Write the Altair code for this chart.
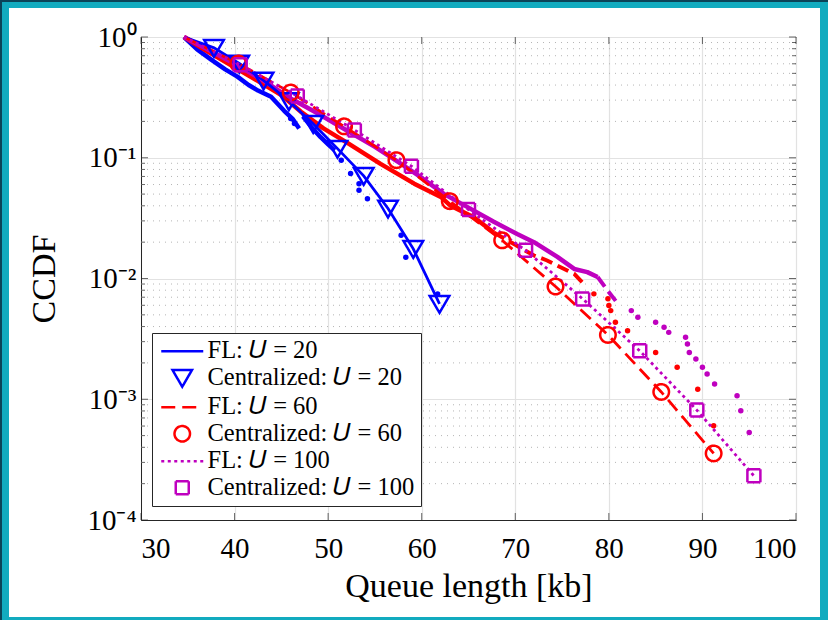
import altair as alt
import pandas as pd

# ---------------- values ----------------
start_x = 34.6
start_y = 1.0

# Centralized markers (and the FL model lines running through them)
u20_x = [37.8, 40.5, 43.1, 45.8, 48.4, 51.0, 53.8, 56.4, 59.1, 61.9]
u20_y = [0.813, 0.603, 0.437, 0.295, 0.191, 0.119, 0.0708, 0.0380, 0.0176, 0.00617]
u60_x = [40.4, 46.0, 51.7, 57.3, 63.0, 68.6, 74.3, 79.9, 85.6, 91.2]
u60_y = [0.603, 0.347, 0.182, 0.0955, 0.0437, 0.0207, 0.00859, 0.00341, 0.00115, 0.000356]
u100_x = [40.6, 46.7, 52.8, 58.9, 65.0, 71.1, 77.2, 83.3, 89.4, 95.5]
u100_y = [0.589, 0.324, 0.170, 0.0851, 0.0372, 0.0171, 0.00678, 0.00252, 0.000813, 0.000232]

# empirical (dense dot) curves: head parts, dashed parts, sparse tail dots
b_head1_x = [34.6, 36.0, 37.5, 39.0, 40.3, 41.5, 42.5, 43.9, 45.3, 46.2, 46.9]
b_head1_y = [1.0, 0.79, 0.65, 0.54, 0.47, 0.40, 0.36, 0.32, 0.245, 0.21, 0.175]
b_head2_x = [47.3, 48.2, 49.2, 50.0, 50.7]
b_head2_y = [0.22, 0.18, 0.148, 0.129, 0.115]
b_dots_x = [46.0, 46.4, 51.4, 52.4, 53.3, 53.3, 54.2, 57.8, 58.3, 61.7]
b_dots_y = [0.211, 0.192, 0.0955, 0.074, 0.061, 0.0537, 0.0458, 0.0228, 0.0150, 0.00746]

r_head_x = [34.6, 37.0, 40.0, 43.0, 45.0, 47.1, 49.5, 52.1, 55.6, 59.2, 62.1, 63.1, 65.6, 67.7]
r_head_y = [1.0, 0.77, 0.56, 0.41, 0.33, 0.24, 0.175, 0.132, 0.089, 0.061, 0.047, 0.040, 0.032, 0.024]
r_mid_x = [67.7, 70.0, 72.0, 73.4, 76.3, 77.5]
r_mid_y = [0.024, 0.019, 0.0155, 0.0141, 0.0109, 0.0087]
r_dots_x = [78.4, 79.9, 80.0, 80.2, 80.7, 82.0, 85.0, 87.3, 89.5, 91.2]
r_dots_y = [0.00746, 0.00679, 0.00597, 0.00542, 0.00434, 0.0037, 0.00244, 0.00184, 0.00121, 0.000603]

p_head_x = [34.6, 37.0, 40.0, 43.0, 46.0, 49.0, 52.0, 55.0, 57.8, 59.9, 62.4, 64.9, 67.7, 70.2, 72.0, 74.5, 76.3, 77.7, 78.8]
p_head_y = [1.0, 0.80, 0.60, 0.44, 0.31, 0.23, 0.168, 0.123, 0.089, 0.069, 0.050, 0.039, 0.0295, 0.0234, 0.020, 0.0151, 0.0120, 0.0113, 0.0103]
p_mid_x = [78.8, 79.9, 81.1]
p_mid_y = [0.0103, 0.0079, 0.0060]
p_dots_x = [82.4, 83.1, 85.0, 85.9, 86.4, 88.2, 88.4, 88.6, 89.3, 90.0, 90.5, 91.3, 93.7, 94.1, 95.0]
p_dots_y = [0.00542, 0.00478, 0.00434, 0.00394, 0.00358, 0.00326, 0.00287, 0.00244, 0.00215, 0.00184, 0.00162, 0.00134, 0.00107, 0.000804, 0.00053]

# axes
x_ticks = [30, 40, 50, 60, 70, 80, 90, 100]
y_major = [1e-4, 1e-3, 1e-2, 1e-1, 1.0]
y_minor = [m * d for d in [1e-4, 1e-3, 1e-2, 1e-1] for m in range(2, 10)]

series = ["FL: 𝑈 = 20", "Centralized: 𝑈 = 20",
          "FL: 𝑈 = 60", "Centralized: 𝑈 = 60",
          "FL: 𝑈 = 100", "Centralized: 𝑈 = 100"]

BLUE, RED, PURPLE = "#0000ff", "#ff0000", "#bf00bf"
INK = "#262626"
FONT = "Liberation Serif"
W, H = 655, 483
colors = {series[0]: BLUE, series[2]: RED, series[4]: PURPLE}


# ---------------- tables ----------------
def rows(name, xs, ys, seg=""):
    return [{"x": a, "y": b, "series": name, "seg": name + seg, "hex": colors.get(name, "")}
            for a, b in zip(xs, ys)]


model20 = pd.DataFrame(rows(series[0], [start_x] + u20_x, [start_y] + u20_y))
model60 = pd.DataFrame(rows(series[2], [start_x] + u60_x, [start_y] + u60_y))
model100 = pd.DataFrame(rows(series[4], [start_x] + u100_x, [start_y] + u100_y))
cent = pd.DataFrame(
    rows(series[1], u20_x, u20_y) + rows(series[3], u60_x, u60_y) + rows(series[5], u100_x, u100_y)
)
heads = pd.DataFrame(
    rows(series[0], b_head1_x, b_head1_y, "a") + rows(series[0], b_head2_x, b_head2_y, "b")
    + rows(series[2], r_head_x, r_head_y) + rows(series[4], p_head_x, p_head_y)
)
mids = pd.DataFrame(rows(series[2], r_mid_x, r_mid_y) + rows(series[4], p_mid_x, p_mid_y))
dots = pd.DataFrame(
    rows(series[0], b_dots_x, b_dots_y) + rows(series[2], r_dots_x, r_dots_y)
    + rows(series[4], p_dots_x, p_dots_y)
)
minor_df = pd.DataFrame({"y": y_minor})
major_df = pd.DataFrame({"y": y_major})
xt_df = pd.DataFrame({"x": x_ticks})

LINE = "M-4.2,0H4.2"
TRI = "M-1.95,-1.55H1.95L0,1.8Z"
CIRC = "M1.55,0A1.55,1.55,0,1,1,-1.55,0A1.55,1.55,0,1,1,1.55,0Z"
SQ = "M-1.3,-1.3H1.3V1.3H-1.3Z"

color_scale = alt.Scale(domain=series, range=[BLUE, BLUE, RED, RED, PURPLE, PURPLE])
dash_scale = alt.Scale(domain=series, range=[[1, 0], [1, 0], [14, 7], [1, 0], [3, 3.5], [1, 0]])
shape_scale = alt.Scale(domain=series, range=[LINE, TRI, LINE, CIRC, LINE, SQ])

xscale = alt.Scale(domain=[30, 100], nice=False, zero=False)
yscale = alt.Scale(type="log", domain=[1e-4, 1], nice=False)

ylabel = ("datum.value >= 0.5 ? '10⁰' : datum.value >= 0.05 ? '10⁻¹' : "
          "datum.value >= 0.005 ? '10⁻²' : datum.value >= 0.0005 ? '10⁻³' : '10⁻⁴'")

xaxis = alt.Axis(values=x_ticks, ticks=False, tickSize=0, labelPadding=14, grid=True,
                 gridColor="#e2e2e2", gridWidth=1.2, titlePadding=6, format="d")
yaxis = alt.Axis(values=y_major, ticks=False, tickSize=0, labelPadding=5, grid=True,
                 gridColor="#e2e2e2", gridWidth=1.2, labelExpr=ylabel, titlePadding=25)


def X(f="x"):
    return alt.X(f"{f}:Q", scale=xscale, axis=xaxis, title="Queue length [kb]")


def Y(f="y"):
    return alt.Y(f"{f}:Q", scale=yscale, axis=yaxis, title="CCDF")


HEX = alt.Color("hex:N", scale=None)

leg = alt.Legend(title=None, orient="none", legendX=11, legendY=296, padding=6,
                 symbolOffset=12, labelOffset=13, symbolSize=100, symbolStrokeWidth=2.5,
                 labelFont=FONT, labelFontSize=24.5, labelColor="#000000", strokeColor=INK,
                 fillColor="#ffffff", rowPadding=1.5, labelLimit=400)

minor_grid = alt.Chart(minor_df).mark_rule(color="#b5b5b5", strokeWidth=1, strokeDash=[1, 5]).encode(y=Y())

heads_l = alt.Chart(heads).mark_line(strokeWidth=4.5, strokeJoin="round").encode(
    x=X(), y=Y(), color=HEX, detail="seg:N")
mids_l = alt.Chart(mids).mark_line(strokeWidth=4, strokeDash=[12, 6]).encode(
    x=X(), y=Y(), color=HEX, detail="seg:N")
dots_l = alt.Chart(dots).mark_circle(size=30, opacity=1).encode(x=X(), y=Y(), color=HEX)

m20 = alt.Chart(model20).mark_line(strokeWidth=2.8, color=BLUE).encode(x=X(), y=Y())
m60 = alt.Chart(model60).mark_line(strokeWidth=2.8, color=RED, strokeDash=[14, 7]).encode(x=X(), y=Y())
m100 = alt.Chart(model100).mark_line(strokeWidth=2.8, color=PURPLE, strokeDash=[3, 3.5]).encode(x=X(), y=Y())

marks_l = alt.Chart(cent).mark_point(filled=False, size=100, strokeWidth=2.5, opacity=1).encode(
    x=X(), y=Y(),
    color=alt.Color("series:N", scale=color_scale, legend=leg),
    shape=alt.Shape("series:N", scale=shape_scale, legend=leg),
    strokeDash=alt.StrokeDash("series:N", scale=dash_scale, legend=leg))

# inward tick marks on all four sides
xt_bot = alt.Chart(xt_df).mark_tick(orient="vertical", size=7, thickness=1, color=INK).encode(x=X(), y=alt.value(H - 3.5))
xt_top = alt.Chart(xt_df).mark_tick(orient="vertical", size=7, thickness=1, color=INK).encode(x=X(), y=alt.value(3.5))
yt_l = alt.Chart(major_df).mark_tick(orient="horizontal", size=7, thickness=1, color=INK).encode(y=Y(), x=alt.value(3.5))
yt_r = alt.Chart(major_df).mark_tick(orient="horizontal", size=7, thickness=1, color=INK).encode(y=Y(), x=alt.value(W - 3.5))
ym_l = alt.Chart(minor_df).mark_tick(orient="horizontal", size=4, thickness=1, color=INK).encode(y=Y(), x=alt.value(2))
ym_r = alt.Chart(minor_df).mark_tick(orient="horizontal", size=4, thickness=1, color=INK).encode(y=Y(), x=alt.value(W - 2))

# cyan frame around the figure
CYAN, DARK = "#12abbf", "#0b4458"


def strip(x1, x2, y1, y2, c):
    return alt.Chart(xt_df).mark_rect(color=c).encode(
        x=alt.value(x1), x2=alt.value(x2), y=alt.value(y1), y2=alt.value(y2))


frame = [strip(-141, -132, -37, 583, CYAN), strip(-141, 687, -37, -29, CYAN),
         strip(679, 687, -37, 583, CYAN), strip(-141, 687, 580, 583, CYAN),
         strip(-141, -139, -37, 583, DARK), strip(-141, 687, -37, -35, DARK)]

chart = alt.layer(
    minor_grid, heads_l, mids_l, dots_l, m20, m60, m100, marks_l,
    xt_bot, xt_top, yt_l, yt_r, ym_l, ym_r, *frame
).properties(
    width=W, height=H,
    autosize=alt.AutoSizeParams(type="none"),
    padding={"left": 141, "top": 37, "right": 32, "bottom": 100},
    background="#ffffff",
).configure_view(
    stroke=INK, strokeWidth=1
).configure_axis(
    labelFont=FONT, labelFontSize=29, labelColor="#000000",
    titleFont=FONT, titleFontSize=34, titleColor="#000000", titleFontWeight="normal",
    domainColor=INK, domainWidth=1,
)

chart.save("out.html", embed_options={"renderer": "svg", "actions": False})
